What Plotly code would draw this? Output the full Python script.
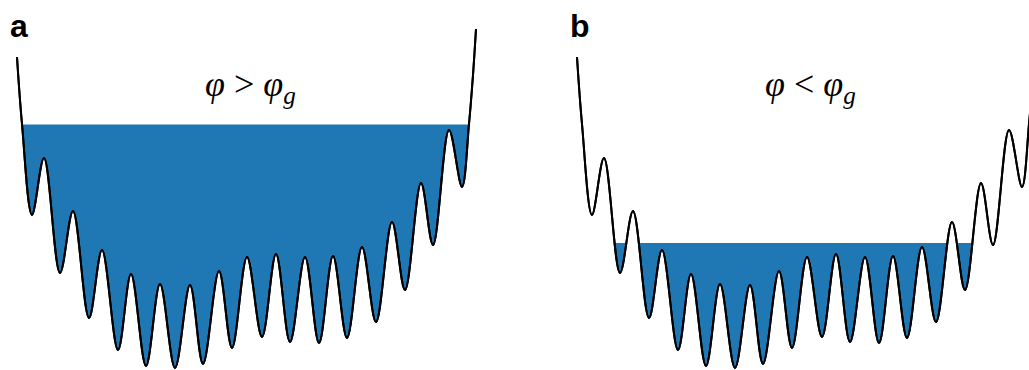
import plotly.graph_objects as go

# Potential landscape (same curve used in both panels)
pos = [17, 22, 32, 44, 60, 73, 89, 102, 118, 131, 146, 160, 175, 190, 203, 219,
       232, 247, 262, 276, 290, 305, 319, 333, 347, 362, 376, 392, 405, 421,
       433, 449, 462, 469, 473, 476]
energy = [313, 246, 155, 212, 97, 159, 52, 120, 20, 96, 4, 86, 2, 85, 6, 99,
          22, 113, 33, 116, 28, 113, 27, 114, 32, 123, 48, 148, 80, 187,
          125, 240, 183, 246, 295, 341]

# Filling levels and well extents
level_a = 245.5
well_a = [18, 475]
level_b = 127
well_b = [47, 418]

labels = ["a", "b"]
titles = ["<i>φ</i> > <i>φ</i><sub><i>g</i></sub>",
          "<i>φ</i> < <i>φ</i><sub><i>g</i></sub>"]

BLUE = "#1f77b4"

fig = go.Figure()

for k, (lvl, well) in enumerate([(level_a, well_a), (level_b, well_b)]):
    xa = "x" if k == 0 else "x2"
    ya = "y" if k == 0 else "y2"
    # liquid level filled down to the bottom
    fig.add_trace(go.Scatter(x=well, y=[lvl, lvl], mode="lines",
                             line=dict(width=0, color=BLUE), fill="tozeroy",
                             fillcolor=BLUE, xaxis=xa, yaxis=ya,
                             hoverinfo="skip", showlegend=False))
    # landscape: white below the curve masks the fill outside the liquid
    fig.add_trace(go.Scatter(x=pos, y=energy, mode="lines",
                             line=dict(color="black", width=2, shape="spline"),
                             fill="tozeroy", fillcolor="white",
                             xaxis=xa, yaxis=ya, hoverinfo="skip",
                             showlegend=False))
    fig.add_trace(go.Scatter(x=pos, y=energy, mode="lines",
                             line=dict(color="black", width=2, shape="spline"),
                             xaxis=xa, yaxis=ya, hoverinfo="skip",
                             showlegend=False))

ax = dict(visible=False, showgrid=False, zeroline=False, fixedrange=True)
fig.update_layout(
    width=1029, height=370,
    margin=dict(l=0, r=0, t=0, b=0),
    plot_bgcolor="white", paper_bgcolor="white",
    xaxis=dict(domain=[0, 0.5], range=[0, 514.5], **ax),
    xaxis2=dict(domain=[0.5, 1], range=[-45.5, 469], **ax),
    yaxis=dict(domain=[0, 1], range=[0, 370], **ax),
    yaxis2=dict(domain=[0, 1], range=[0, 370], anchor="x2", **ax),
)

# panel letters and titles
for k, lab in enumerate(labels):
    fig.add_annotation(text="<b>%s</b>" % lab, xref="paper", yref="paper",
                       x=(8 + 560 * k) / 1029, y=1 - 6 / 370,
                       xanchor="left", yanchor="top", showarrow=False,
                       font=dict(family="Liberation Sans, Arial", size=32,
                                 color="black"))
    fig.add_annotation(text=titles[k], xref="x" if k == 0 else "x2",
                       yref="y" if k == 0 else "y2", x=250, y=284,
                       xanchor="center", yanchor="middle", showarrow=False,
                       font=dict(family="Liberation Serif, Times New Roman",
                                 size=36, color="black"))

fig.write_html("out.html",
               config={"displayModeBar": False},
               post_script="document.body.style.margin='0';"
                           "document.body.style.overflow='hidden';")
